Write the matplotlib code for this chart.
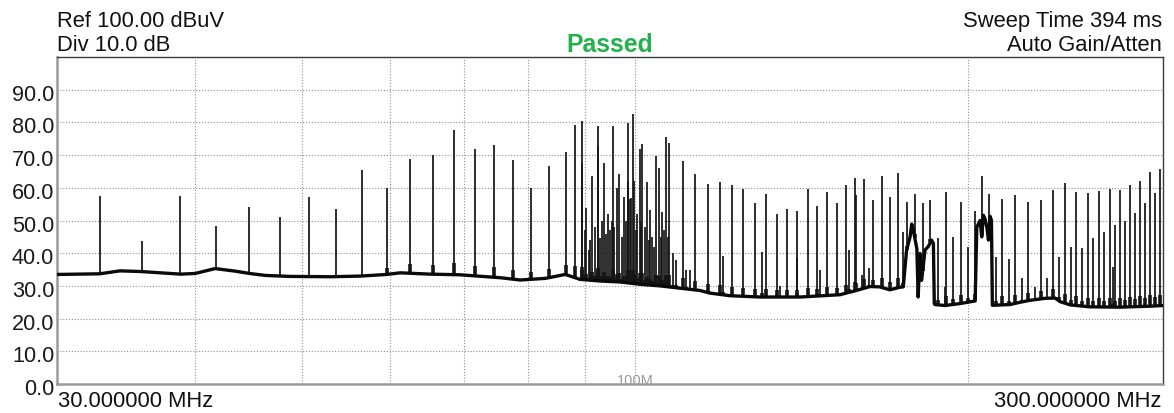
import numpy as np
import matplotlib
matplotlib.use("Agg")
import matplotlib.pyplot as plt
from matplotlib.transforms import ScaledTranslation, blended_transform_factory

plt.rcParams['font.family'] = ['Liberation Sans', 'DejaVu Sans']

# ---------------- data ----------------
# comb of harmonics (MHz) and their peak levels (dBuV)
harm_freq = [32.80, 35.78, 38.77, 41.75, 44.73, 47.71, 50.69, 53.68, 56.66, 59.64,
             62.62, 65.60, 68.59, 71.57, 74.55, 77.53, 80.51, 83.50, 86.48, 89.46,
             92.44, 95.42, 98.41, 101.39, 104.37, 107.35, 110.33, 113.32, 116.30, 119.28,
             122.26, 125.24, 128.23, 131.21, 134.19, 137.17, 140.15, 143.14, 146.12, 149.10,
             152.08, 155.06, 158.05, 161.03, 164.01, 166.99, 169.97, 172.96, 175.94, 178.92,
             181.90, 184.88, 187.87, 190.85, 193.83, 196.81, 199.79, 202.78, 205.76, 208.74,
             211.72, 214.70, 217.69, 220.67, 223.65, 226.63, 229.61, 232.60, 235.58, 238.56,
             241.54, 244.52, 247.51, 250.49, 253.47, 256.45, 259.43, 262.42, 265.40, 268.38,
             271.36, 274.34, 277.33, 280.31, 283.29, 286.27, 289.25, 292.24, 295.22, 298.20]
harm_level = [57.4, 43.6, 57.4, 48.4, 54.2, 51.2, 57.2, 53.6, 65.5, 59.9,
              68.8, 70.1, 77.8, 71.8, 73.1, 68.6, 59.9, 66.7, 71.1, 80.3,
              79.0, 78.8, 79.8, 73.4, 69.6, 73.7, 68.1, 64.3, 61.2, 61.9,
              60.8, 59.5, 55.5, 58.0, 52.1, 53.4, 52.9, 59.5, 54.5, 58.8,
              55.5, 60.8, 63.1, 62.8, 56.4, 63.7, 57.2, 64.6, 55.6, 58.0,
              55.4, 56.4, 44.5, 58.6, 45.0, 55.7, 41.9, 52.9, 63.6, 58.0,
              38.9, 56.6, 38.2, 57.8, 32.5, 55.8, 29.7, 56.3, 32.3, 59.3,
              38.9, 61.6, 41.9, 58.8, 41.7, 58.3, 44.8, 59.1, 46.5, 59.5,
              48.5, 59.3, 49.9, 60.8, 52.4, 62.0, 55.4, 64.7, 58.5, 65.7]

# other carriers (FM band etc.)
other_freq = [88.26, 89.55, 90.06, 90.30, 90.75, 91.09, 91.47, 91.86, 92.53, 92.92,
              93.31, 93.70, 94.09, 94.52, 94.93, 95.26, 95.75, 96.21, 96.71, 97.17,
              97.64, 97.98, 98.59, 98.90, 99.21, 99.52, 99.79, 100.15, 100.42, 100.88,
              101.20, 101.94, 102.41, 102.79, 103.12, 103.54, 103.97, 105.02, 105.40, 105.73,
              106.17, 106.57, 107.05, 108.16, 108.84, 111.14, 112.05,
              119.95, 130.12, 135.16, 140.02, 146.96, 155.92, 158.21, 160.20, 162.66,
              174.49, 190.66, 270.16]
other_level = [79.3, 67.5, 47.0, 53.7, 41.0, 44.0, 63.6, 48.0, 72.8, 44.5,
               50.0, 67.6, 46.0, 52.0, 47.0, 50.0, 48.0, 59.8, 64.1, 45.0,
               57.3, 50.0, 62.0, 56.7, 57.0, 82.5, 62.0, 47.0, 52.0, 72.0,
               50.0, 48.0, 61.8, 44.0, 53.1, 45.0, 42.0, 66.0, 45.0, 52.5,
               47.0, 75.4, 45.0, 40.0, 38.0, 35.0, 35.0,
               39.0, 40.4, 30.0, 38.4, 35.0, 40.9, 57.8, 33.3, 35.5,
               46.5, 29.7, 35.8]

# noise floor trace
floor_freq = [30.0, 32.8, 34.2, 35.7, 37.2, 38.8, 40.0, 41.7, 43.5, 44.8,
              46.3, 48.7, 53.0, 56.4, 59.6, 61.3, 65.2, 69.4, 75.5, 78.7,
              82.9, 86.4, 87.7, 89.1, 92.9, 96.9, 101.0, 105.3, 109.8, 114.4,
              116.8, 121.8, 129.7, 140.9, 153.1, 158.0, 163.0, 166.4, 169.9, 173.5,
              174.7, 175.9, 177.2, 177.8, 178.4, 179.7, 180.2, 180.9, 181.5, 182.8,
              184.0, 185.3, 186.0, 186.35, 186.6, 190.5, 196.6, 202.9, 203.6, 205.0,
              205.7, 206.4, 207.1, 207.9, 208.6, 209.3, 209.9, 210.3, 211.5, 218.2,
              222.8, 227.5, 234.7, 239.6, 242.1, 247.2, 257.7, 274.3, 292.0, 300.0]
floor_level = [33.5, 33.7, 34.6, 34.4, 34.0, 33.6, 33.8, 35.3, 34.5, 33.8,
               33.2, 32.9, 32.8, 33.0, 33.5, 34.0, 33.6, 33.4, 32.5, 31.8,
               32.3, 33.5, 32.8, 32.0, 31.5, 31.2, 30.5, 30.0, 29.3, 28.6,
               27.8, 27.0, 26.6, 26.6, 27.3, 28.5, 29.8, 29.7, 28.8, 29.6,
               29.7, 40.9, 45.0, 48.9, 47.0, 41.4, 26.6, 39.9, 31.7, 41.0,
               42.0, 44.0, 43.0, 24.6, 24.3, 24.0, 24.6, 25.4, 48.0, 50.0,
               45.0, 51.6, 50.5, 47.9, 44.0, 51.3, 50.0, 24.1, 24.1, 24.3,
               25.0, 25.6, 26.2, 26.3, 25.2, 24.2, 23.6, 23.5, 23.8, 24.0]

y_ticks = [0, 10, 20, 30, 40, 50, 60, 70, 80, 90]
x_grid = [40, 50, 60, 70, 80, 90, 100, 200]

# ---------------- figure ----------------
W, H = 1174, 413
fig = plt.figure(figsize=(W / 100, H / 100), dpi=100)
ax = fig.add_axes([57 / W, 1 - 384 / H, (1163 - 57) / W, (384 - 57) / H])
ax.set_xscale('log')
ax.set_xlim(30, 300)
ax.set_ylim(0, 100)

grid_kw = dict(color='#8f8f8f', lw=0.8, linestyle=(0, (1, 1.6)), zorder=1)
for v in y_ticks[1:]:
    ax.axhline(v, **grid_kw)
for v in x_grid:
    ax.axvline(v, **grid_kw)

all_f = np.array(harm_freq + other_freq)
all_l = np.array(harm_level + other_level)
base = np.interp(all_f, floor_freq, floor_level)
ax.vlines(all_f, base, all_l, color='#151515', lw=1.25, zorder=3)

# mild resolution-bandwidth skirts at the foot of the wider peaks (above ~59 MHz)
wide = all_f > 59
rise = all_l[wide] - base[wide]
ax.vlines(all_f[wide], base[wide], base[wide] + 0.08 * rise, color='#151515', lw=2.6, zorder=3)

ax.plot(floor_freq, floor_level, color='#0a0a0a', lw=2.4, zorder=4,
        solid_joinstyle='round')

# axes style
ax.set_xticks([])
ax.xaxis.set_minor_locator(matplotlib.ticker.NullLocator())
ax.set_yticks(y_ticks)
ax.set_yticklabels([f"{v:.1f}" for v in y_ticks], fontsize=15.6, color='#1a1a1a')
ax.tick_params(axis='y', length=0, pad=2)
off = ScaledTranslation(0, -3 / 100, fig.dpi_scale_trans)
for lab in ax.get_yticklabels():
    lab.set_transform(lab.get_transform() + off)

for side in ['left', 'bottom']:
    ax.spines[side].set_color('#9a9a9a')
    ax.spines[side].set_linewidth(1.8)
for side in ['top', 'right']:
    ax.spines[side].set_color('#3a3a3a')
    ax.spines[side].set_linewidth(1.0)

trans = blended_transform_factory(ax.transData, ax.transAxes)
ax.text(100, -0.004, '100M', transform=trans, ha='center', va='baseline',
        fontsize=10.5, color='#9a9a9a', zorder=5)

fs = 15.8
fig.text(57 / W, 1 - 27 / H, 'Ref 100.00 dBuV', fontsize=fs, ha='left', va='baseline', color='#111111')
fig.text(57 / W, 1 - 51 / H, 'Div 10.0 dB', fontsize=fs, ha='left', va='baseline', color='#111111')
fig.text(1162 / W, 1 - 27 / H, 'Sweep Time 394 ms', fontsize=fs, ha='right', va='baseline', color='#111111')
fig.text(1162 / W, 1 - 51 / H, 'Auto Gain/Atten', fontsize=fs, ha='right', va='baseline', color='#111111')
fig.text(610 / W, 1 - 52 / H, 'Passed', fontsize=17.8, fontweight='bold', ha='center',
         va='baseline', color='#22b14c')
fig.text(58 / W, 1 - 407 / H, '30.000000 MHz', fontsize=fs, ha='left', va='baseline', color='#111111')
fig.text(1162 / W, 1 - 407 / H, '300.000000 MHz', fontsize=fs, ha='right', va='baseline', color='#111111')

fig.savefig('out.png', dpi=100, facecolor='white')
